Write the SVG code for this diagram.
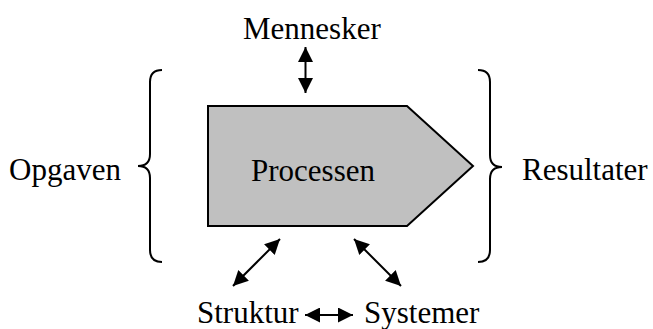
<svg xmlns="http://www.w3.org/2000/svg" width="653" height="329" viewBox="0 0 653 329">
<style>
text{font-family:"Liberation Serif","Times New Roman",serif;font-size:31px;fill:#000}
.ln{stroke:#000;stroke-width:2;fill:none}
.br{stroke:#000;stroke-width:2;fill:none}
</style>
<defs>
<marker id="ah" viewBox="0 0 10 10" refX="10" refY="5" markerWidth="15" markerHeight="15" markerUnits="userSpaceOnUse" orient="auto-start-reverse">
<path d="M0,0 L10,5 L0,10 z" fill="#000"/>
</marker>
</defs>
<rect width="653" height="329" fill="#fff"/>
<g id="process">
<polygon points="208,106 407,106 473,166 407,226 208,226" fill="#c0c0c0" stroke="#000" stroke-width="2"/>
<text x="251" y="181">Processen</text>
</g>
<g id="opgaven">
<path class="br" d="M162,70 Q150,70 150,82 L150,154 Q150,166 138,166 Q150,166 150,178 L150,250 Q150,262 162,262"/>
<text x="9" y="180">Opgaven</text>
</g>
<g id="resultater">
<path class="br" d="M478,70 Q490,70 490,82 L490,155 Q490,167 502,167 Q490,167 490,179 L490,250 Q490,262 478,262"/>
<text x="522" y="180">Resultater</text>
</g>
<g id="mennesker">
<text x="243" y="39">Mennesker</text>
</g>
<g id="struktur">
<text x="197" y="323">Struktur</text>
</g>
<g id="systemer">
<text x="364" y="323">Systemer</text>
</g>
<g id="connectors">
<line class="ln" x1="305.5" y1="47" x2="305.5" y2="93" marker-start="url(#ah)" marker-end="url(#ah)"/>
<line class="ln" x1="233" y1="286" x2="280" y2="239" marker-start="url(#ah)" marker-end="url(#ah)"/>
<line class="ln" x1="354" y1="239" x2="401" y2="286" marker-start="url(#ah)" marker-end="url(#ah)"/>
<line class="ln" x1="305" y1="315" x2="353" y2="315" marker-start="url(#ah)" marker-end="url(#ah)"/>
</g>
</svg>
